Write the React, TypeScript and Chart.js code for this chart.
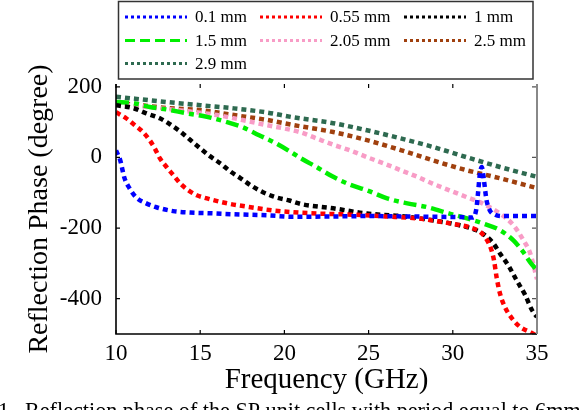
import React, { useEffect, useRef } from "react";
import { Chart, registerables } from "chart.js";

Chart.register(...registerables);

const FONT = "'Liberation Serif', 'Times New Roman', serif";

const X_TICKS = [10, 15, 20, 25, 30, 35];
const Y_TICKS = [-400, -200, 0, 200];
const X_TITLE = "Frequency (GHz)";
const Y_TITLE = "Reflection Phase (degree)";
const CAPTION_NUM = "1.";
const CAPTION = "Reflection phase of the SP unit cells with period equal to 6mm";

const LABELS = ["0.1 mm", "0.55 mm", "1 mm", "1.5 mm", "2.05 mm", "2.5 mm", "2.9 mm"];
const COLORS = ["#0000ff", "#ff0000", "#000000", "#00ee00", "#f89cc6", "#a0400e", "#2e6a50"];

const FREQ_01 = [10, 10.25, 10.5, 10.8, 11.2, 11.8, 12.4, 13.4, 14.4, 15.6, 17, 19, 20.5, 23, 25, 27, 29, 30.5, 31.2, 31.4, 31.5, 31.6, 31.72, 31.85, 32.0, 32.2, 32.5, 33, 34, 35];
const PHASE_01 = [20, -8, -58, -87, -113, -130, -141, -152, -156, -158, -161, -164, -168, -167, -166, -167, -168, -169, -170, -145, -100, -50, -27, -65, -120, -150, -162, -166, -166, -166];

const FREQ_055 = [10, 10.6, 11.1, 11.6, 12, 12.3, 12.6, 13, 13.4, 13.8, 14.3, 14.8, 15.4, 16.6, 18, 19.3, 20.5, 22, 24, 26, 28, 29, 30, 31, 31.7, 32.1, 32.3, 32.45, 32.6, 32.8, 33.1, 33.5, 34, 34.6, 35];
const PHASE_055 = [128, 111, 92, 72, 49, 26, -2, -27, -50, -73, -93, -107, -116, -130, -141, -150, -155, -159, -162, -167, -173, -180, -188, -198, -214, -240, -263, -292, -339, -385, -424, -455, -480, -495, -505];

const FREQ_1 = [10, 11, 11.8, 12.6, 13.2, 13.8, 14.4, 15, 15.6, 16.2, 16.8, 17.4, 18, 18.7, 19.5, 20.3, 21, 22.9, 24.9, 26.9, 28.8, 30.4, 31.4, 31.9, 32.4, 32.8, 33.3, 33.8, 34.3, 34.7, 35];
const PHASE_1 = [148, 140, 125, 111, 94, 74, 50, 26, 3, -17, -40, -59, -79, -98, -113, -122, -132, -144, -159, -166, -178, -192, -206, -220, -243, -272, -306, -349, -390, -432, -452];

const FREQ_15 = [10, 11, 12, 13, 14.2, 15.4, 16.6, 17.5, 18.5, 19.5, 20.5, 21, 21.9, 22.9, 23.9, 24.9, 26.1, 27.3, 28.5, 29.8, 30.8, 31.8, 32.8, 33.6, 34.2, 34.6, 35];
const PHASE_15 = [157, 154, 143, 136, 125, 115, 100, 86, 63, 40, 12, -3, -27, -55, -77, -93, -116, -130, -141, -159, -172, -187, -206, -235, -269, -297, -320];

const FREQ_205 = [10, 12, 14, 16, 18, 19, 20, 20.9, 21.9, 22.9, 23.9, 24.9, 25.9, 26.9, 27.9, 28.8, 29.8, 30.8, 31.8, 32.8, 33.6, 34.2, 34.6, 35];
const PHASE_205 = [152, 142, 132, 120, 101, 91, 82, 72, 54, 36, 20, 1, -17, -36, -55, -74, -93, -112, -131, -159, -192, -235, -272, -345];

const FREQ_25 = [10, 12, 13, 15, 17, 19, 20.5, 22.9, 24.9, 26.9, 28.8, 30.8, 32.8, 35];
const PHASE_25 = [155, 145, 140, 134, 120, 106, 92, 72, 49, 21, -8, -36, -59, -87];

const FREQ_29 = [10, 13, 15, 17, 19, 20.5, 22.9, 24.9, 26.9, 28.8, 30.8, 32.8, 35];
const PHASE_29 = [172, 157, 148, 139, 127, 114, 97, 77, 54, 30, 1, -27, -55];

const SERIES_FREQ = [FREQ_01, FREQ_055, FREQ_1, FREQ_15, FREQ_205, FREQ_25, FREQ_29];
const SERIES_PHASE = [PHASE_01, PHASE_055, PHASE_1, PHASE_15, PHASE_205, PHASE_25, PHASE_29];

const DOT = [5, 4];
const DASHDOT = [13, 5, 5, 5];

const framePlugin = {
  id: "frame",
  afterDatasetsDraw(chart: any) {
    const { ctx, chartArea: a, scales } = chart;
    const xs = scales.x;
    const ys = scales.y;
    ctx.save();
    ctx.lineCap = "butt";
    ctx.strokeStyle = "#000";
    ctx.lineWidth = 1.2;
    ctx.beginPath();
    X_TICKS.forEach((v) => {
      const px = xs.getPixelForValue(v);
      ctx.moveTo(px, a.bottom);
      ctx.lineTo(px, a.bottom - 4);
      ctx.moveTo(px, a.top);
      ctx.lineTo(px, a.top + 4);
    });
    Y_TICKS.forEach((v) => {
      const py = ys.getPixelForValue(v);
      ctx.moveTo(a.left, py);
      ctx.lineTo(a.left + 4, py);
    });
    ctx.stroke();
    ctx.strokeStyle = "#555";
    ctx.beginPath();
    [...Y_TICKS, ys.min].forEach((v) => {
      const py = ys.getPixelForValue(v);
      ctx.moveTo(a.right, py);
      ctx.lineTo(a.right - 5, py);
    });
    ctx.stroke();
    ctx.strokeStyle = "#000";
    ctx.lineWidth = 1.6;
    ctx.beginPath();
    ctx.moveTo(a.left, a.top);
    ctx.lineTo(a.left, a.bottom);
    ctx.lineTo(a.right, a.bottom);
    ctx.stroke();
    ctx.strokeStyle = "#888";
    ctx.lineWidth = 2;
    ctx.beginPath();
    ctx.moveTo(a.right, a.top);
    ctx.lineTo(a.right, a.bottom);
    ctx.stroke();
    ctx.restore();
  },
};

const legendPlugin = {
  id: "boxLegend",
  afterDraw(chart: any) {
    const { ctx } = chart;
    ctx.save();
    ctx.strokeStyle = "#333";
    ctx.lineWidth = 1.5;
    ctx.strokeRect(118.5, 1.5, 414.5, 77.5);
    const colX = [195, 330, 474];
    const rowY = [17, 40.5, 63.5];
    ctx.font = `17px ${FONT}`;
    ctx.textBaseline = "middle";
    ctx.textAlign = "left";
    chart.data.datasets.forEach((ds: any, i: number) => {
      const cx = colX[i % 3];
      const cy = rowY[Math.floor(i / 3)];
      ctx.strokeStyle = ds.borderColor;
      ctx.lineWidth = 3;
      ctx.setLineDash(i === 3 ? [10, 5] : [3, 3]);
      ctx.beginPath();
      ctx.moveTo(cx - 70, cy);
      ctx.lineTo(cx - 8, cy);
      ctx.stroke();
      ctx.setLineDash([]);
      ctx.fillStyle = "#000";
      ctx.fillText(ds.label, cx, cy + 1);
    });
    ctx.fillStyle = "#000";
    ctx.font = `17px ${FONT}`;
    const w = ctx.measureText(CAPTION).width;
    const size = (17 * 556) / w;
    ctx.font = `${size}px ${FONT}`;
    ctx.textBaseline = "alphabetic";
    const base = 403 + size * 0.69;
    ctx.fillText(CAPTION_NUM, -2, base);
    ctx.fillText(CAPTION, 25, base);
    ctx.restore();
  },
};

export default function App() {
  const ref = useRef<HTMLCanvasElement | null>(null);
  useEffect(() => {
    if (!ref.current) return;
    const datasets = LABELS.map((label, i) => ({
      label,
      data: SERIES_FREQ[i].map((f, j) => ({ x: f, y: SERIES_PHASE[i][j] })),
      borderColor: COLORS[i],
      backgroundColor: COLORS[i],
      borderWidth: 4.5,
      borderDash: i === 3 ? DASHDOT : DOT,
      borderCapStyle: "butt",
      pointRadius: 0,
      fill: false,
      cubicInterpolationMode: "monotone",
    }));
    const chart = new Chart(ref.current, {
      type: "line",
      data: { datasets },
      options: {
        animation: false,
        responsive: false,
        devicePixelRatio: 1,
        layout: { padding: { top: 84, right: 43, left: 0, bottom: 0 } },
        plugins: { legend: { display: false }, tooltip: { enabled: false } },
        scales: {
          x: {
            type: "linear",
            min: 10,
            max: 35,
            afterBuildTicks: (s: any) => {
              s.ticks = X_TICKS.map((v) => ({ value: v }));
            },
            afterFit: (s: any) => {
              s.height = 76;
            },
            grid: { display: false },
            border: { display: false },
            ticks: { font: { family: FONT, size: 23 }, color: "#000", padding: -2, maxRotation: 0 },
            title: {
              display: true,
              text: X_TITLE,
              font: { family: FONT, size: 29 },
              color: "#000",
              padding: { top: 0, bottom: 12 },
            },
          },
          y: {
            type: "linear",
            min: -500,
            max: 208,
            afterBuildTicks: (s: any) => {
              s.ticks = Y_TICKS.map((v) => ({ value: v }));
            },
            afterFit: (s: any) => {
              s.width = 116;
            },
            grid: { display: false },
            border: { display: false },
            ticks: { font: { family: FONT, size: 23 }, color: "#000", padding: 6 },
            title: {
              display: true,
              text: Y_TITLE,
              font: { family: FONT, size: 28 },
              color: "#000",
              padding: { top: 23, bottom: 0 },
            },
          },
        },
      },
      plugins: [framePlugin, legendPlugin],
    } as any);
    return () => chart.destroy();
  }, []);
  return (
    <div style={{ position: "absolute", left: 0, top: 0, width: 580, height: 410, background: "#fff" }}>
      <canvas ref={ref} width={580} height={410} style={{ display: "block" }} />
    </div>
  );
}
